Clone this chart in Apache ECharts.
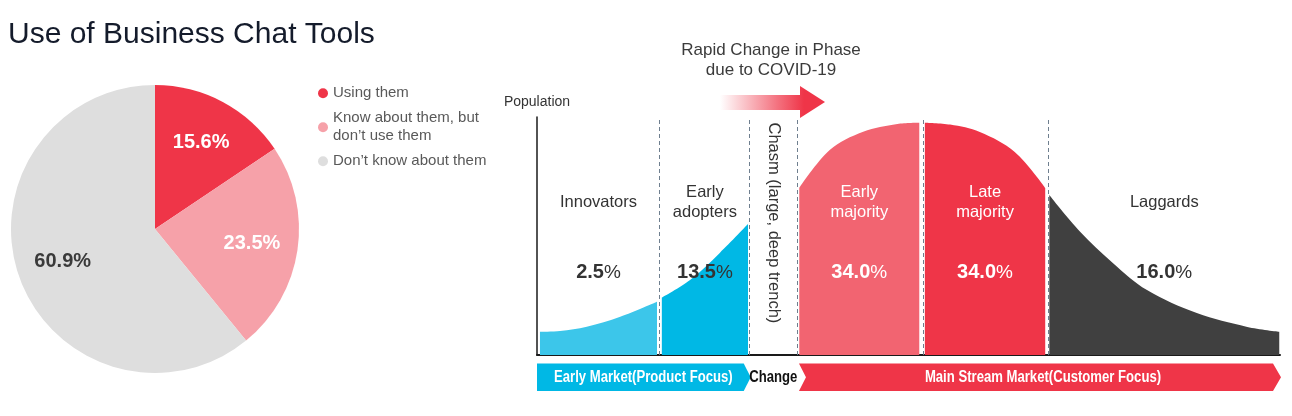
<!DOCTYPE html>
<html><head><meta charset="utf-8">
<script src="https://cdn.jsdelivr.net/npm/echarts@6/dist/echarts.min.js"></script>
<style>html,body{margin:0;padding:0;background:#fff}#c{width:1292px;height:416px}</style>
</head><body><div id="c"></div>
<script>
// ---------- data ----------
const titleText = 'Use of Business Chat Tools';
const pieCategories = ['Using them', 'Know about them, but\ndon’t use them', 'Don’t know about them'];
const pieValues = [15.6, 23.5, 60.9];

const segmentNames = ['Innovators', 'Early\nadopters', 'Early\nmajority', 'Late\nmajority', 'Laggards'];
const segmentShares = [2.5, 13.5, 34.0, 34.0, 16.0];
// outline of the adoption curve, [position, population]
const innovatorsCurve = [[0.4, 9.8], [3.1, 10.1], [6.7, 11.9], [11.2, 16.1], [16.15, 22.4]];
const earlyAdoptersCurve = [[16.8, 24.1], [20.6, 31.5], [24.6, 42.9], [28.4, 55.0]];
const earlyMajorityCurve = [[35.3, 70.2], [39.4, 86.1], [43.9, 93.8], [48.5, 97.1], [51.45, 97.6]];
const lateMajorityCurve = [[52.2, 97.6], [55.6, 96.8], [59.6, 93.7], [64.3, 85.3], [68.4, 70.2]];
const laggardsCurve = [[68.95, 67.2], [73.1, 51.8], [77.5, 38.7], [82.1, 27.3], [88.8, 17.6], [95.6, 11.8], [99.9, 9.8]];
const boundaries = [16.42, 28.63, 34.99, 51.95, 68.78];
const chasmLabel = 'Chasm (large, deep trench)';
const axisName = 'Population';
const arrowText = 'Rapid Change in Phase\ndue to COVID-19';
const marketNames = ['Early Market(Product Focus)', 'Change', 'Main Stream Market(Customer Focus)'];

// ---------- styles ----------
const FONT = "'Liberation Sans', Arial, Helvetica, sans-serif";
const pieColors = ['#ef3548', '#f6a1a9', '#dedede'];
const pieLabelColors = ['#ffffff', '#ffffff', '#3a3a3a'];
const segColors = ['#3cc6ea', '#00b8e5', '#f26471', '#ef3548', '#404040'];
const segNameColors = ['#333333', '#333333', '#ffffff', '#ffffff', '#333333'];
const segShareColors = ['#333333', '#333333', '#ffffff', '#ffffff', '#333333'];
const marketColors = ['#00b8e5', 'rgba(0,0,0,0)', '#ef3548'];
const marketTextColors = ['#ffffff', '#111111', '#ffffff'];

const curves = [innovatorsCurve, earlyAdoptersCurve, earlyMajorityCurve, lateMajorityCurve, laggardsCurve];
const segMid = curves.map(c => (c[0][0] + c[c.length - 1][0]) / 2);
const chasmMid = (earlyAdoptersCurve[earlyAdoptersCurve.length - 1][0] + earlyMajorityCurve[0][0]) / 2;
const marketSpans = [[0, boundaries[1]], [boundaries[1], boundaries[2]], [boundaries[2], 100]];

const chart = echarts.init(document.getElementById('c'), null, { renderer: 'canvas' });

const curveSeries = curves.map((c, i) => ({
  type: 'line', data: c, smooth: 0.35, showSymbol: false, silent: true,
  lineStyle: { width: 0 }, areaStyle: { color: segColors[i], opacity: 1 },
  itemStyle: { color: segColors[i] }, z: 2,
  markLine: i === 0 ? {
    silent: true, symbol: 'none', label: { show: false },
    lineStyle: { type: [4, 3], color: '#6f7f8f', width: 1 },
    data: boundaries.map(b => ({ xAxis: b }))
  } : undefined
}));

function renderMarket(params, api) {
  const i = params.dataIndex;
  const x0 = api.coord([api.value(0), 0])[0];
  const x1 = api.coord([api.value(1), 0])[0];
  const yb = api.coord([0, 0])[1];
  const top = yb + 8.5, bot = yb + 36, mid = (top + bot) / 2;
  let pts = null, cx = (x0 + x1) / 2;
  if (i === 0) {
    pts = [[x0, top], [x1 - 6, top], [x1 + 1, mid], [x1 - 6, bot], [x0, bot]];
  } else if (i === 2) {
    pts = [[x0 + 2, top], [x1 - 7, top], [x1 + 1, mid], [x1 - 7, bot], [x0 + 2, bot], [x0 + 9, mid]];
    cx = (x0 + 9 + x1) / 2;
  }
  const children = [];
  if (pts) children.push({ type: 'polygon', shape: { points: pts }, style: { fill: marketColors[i] } });
  children.push({
    type: 'text', x: cx, y: mid + 0.5, scaleX: 0.82, scaleY: 1,
    style: { text: marketNames[i], fill: marketTextColors[i], font: 'bold 16px ' + FONT, align: 'center', verticalAlign: 'middle' }
  });
  return { type: 'group', children: children };
}

const labelScatter = {
  type: 'scatter', symbolSize: 1, silent: true,
  itemStyle: { color: 'rgba(0,0,0,0)', opacity: 1 }, z: 5,
  emphasis: { disabled: true }
};

const option = {
  animation: false,
  backgroundColor: '#ffffff',
  title: {
    text: titleText, left: 8, top: 20, padding: 0,
    textStyle: { fontSize: 30, fontWeight: 'normal', color: '#141b2b', fontFamily: FONT }
  },
  legend: {
    orient: 'vertical', left: 318, top: 84.3, padding: 0, itemGap: 7,
    itemWidth: 10, itemHeight: 10, icon: 'circle', selectedMode: false,
    textStyle: { fontSize: 15, color: '#595959', lineHeight: 18, fontFamily: FONT },
    data: pieCategories.map((n, i) => ({ name: n, itemStyle: { color: pieColors[i] } }))
  },
  grid: { left: 537, right: 12, top: 117, bottom: 61, containLabel: false },
  xAxis: {
    type: 'value', min: 0, max: 100,
    axisLine: { show: true, lineStyle: { color: '#1a1a1a', width: 2 } },
    axisTick: { show: false }, axisLabel: { show: false }, splitLine: { show: false }
  },
  yAxis: {
    type: 'value', min: 0, max: 100,
    name: axisName, nameLocation: 'end', nameGap: 15,
    nameTextStyle: { fontSize: 14, color: '#333333', fontFamily: FONT, align: 'center', verticalAlign: 'middle' },
    axisLine: { show: true, lineStyle: { color: '#1a1a1a', width: 1.5 } },
    axisTick: { show: false }, axisLabel: { show: false }, splitLine: { show: false }
  },
  graphic: [
    {
      type: 'polygon', z: 10,
      shape: { points: [[720, 95], [800, 95], [800, 86], [825, 102], [800, 118], [800, 110], [720, 110]] },
      style: {
        fill: new echarts.graphic.LinearGradient(0, 0, 1, 0, [
          { offset: 0, color: 'rgba(239,53,72,0)' },
          { offset: 0.55, color: 'rgba(239,53,72,0.7)' },
          { offset: 0.8, color: 'rgba(239,53,72,1)' },
          { offset: 1, color: 'rgba(239,53,72,1)' }
        ])
      }
    },
    {
      type: 'text', x: 771, y: 60, z: 10,
      style: { text: arrowText, fill: '#3b3b3b', font: '17px ' + FONT, lineHeight: 20, align: 'center', verticalAlign: 'middle' }
    }
  ],
  series: [
    {
      type: 'pie', center: [155, 229], radius: 144, startAngle: 90, clockwise: true,
      silent: true, label: { show: false }, labelLine: { show: false },
      itemStyle: { borderWidth: 0 },
      data: pieCategories.map((n, i) => ({ name: n, value: pieValues[i], itemStyle: { color: pieColors[i] } }))
    },
    {
      type: 'pie', center: [155, 229], radius: [46, 144], startAngle: 90, clockwise: true,
      silent: true, labelLine: { show: false },
      itemStyle: { color: 'rgba(0,0,0,0)', borderWidth: 0 },
      label: { show: true, position: 'inside', fontSize: 20, fontWeight: 'bold', fontFamily: FONT,
        formatter: p => p.value.toFixed(1) + '%' },
      data: pieCategories.map((n, i) => ({ name: n, value: pieValues[i], label: { color: pieLabelColors[i] } }))
    },
    ...curveSeries,
    Object.assign({}, labelScatter, {
      label: { show: true, position: 'inside', fontSize: 16.5, lineHeight: 20, fontFamily: FONT, formatter: p => segmentNames[p.dataIndex] },
      data: segMid.map((x, i) => ({ value: [x, 64.2], label: { color: segNameColors[i] } }))
    }),
    Object.assign({}, labelScatter, {
      label: {
        show: true, position: 'inside', fontFamily: FONT,
        formatter: p => '{n|' + segmentShares[p.dataIndex].toFixed(1) + '}{p|%}'
      },
      data: segMid.map((x, i) => ({
        value: [x, 34.5],
        label: { rich: {
          n: { fontSize: 20, fontWeight: 'bold', color: segShareColors[i], fontFamily: FONT },
          p: { fontSize: 19, fontWeight: 'normal', color: segShareColors[i], fontFamily: FONT }
        } }
      }))
    }),
    Object.assign({}, labelScatter, {
      label: { show: true, position: 'inside', rotate: -90, fontSize: 16.5, color: '#333333', fontFamily: FONT, formatter: chasmLabel },
      data: [[chasmMid, 55.5]]
    }),
    {
      type: 'custom', silent: true, clip: false, z: 6,
      renderItem: renderMarket,
      data: marketSpans
    }
  ]
};
chart.setOption(option);
</script>
</body></html>
